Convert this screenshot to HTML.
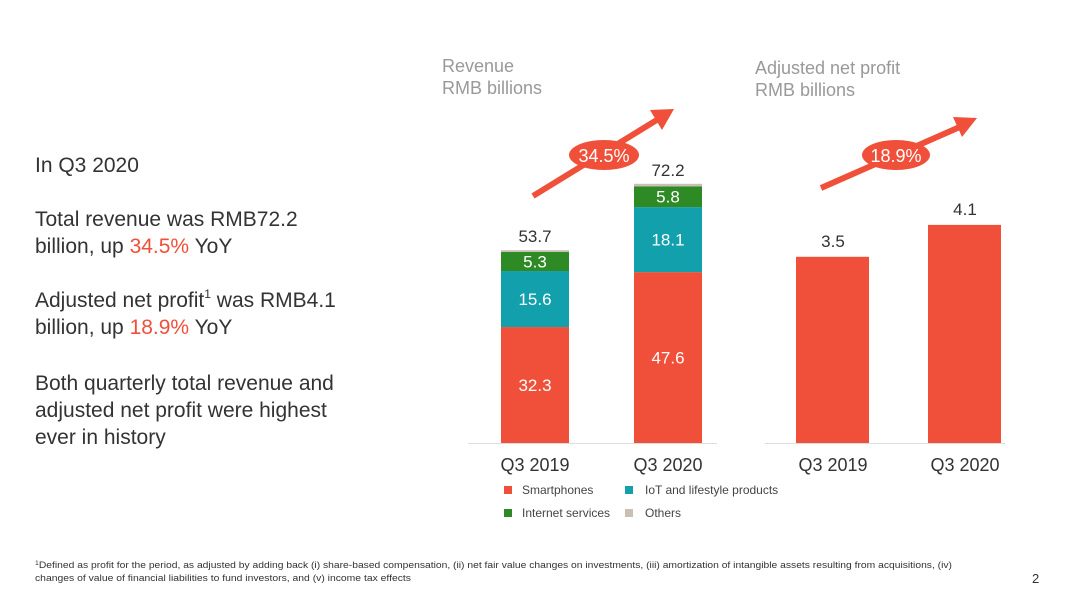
<!DOCTYPE html>
<html><head><meta charset="utf-8"><style>
body{margin:0;background:#fff;}
svg{display:block;font-family:"Liberation Sans",sans-serif;}
</style></head><body>
<svg width="1080" height="605" viewBox="0 0 1080 605">
<g fill="#333" font-size="21">
<text x="35" y="172">In Q3 2020</text>
<text x="35" y="226">Total revenue was RMB72.2</text>
<text x="35" y="253">billion, up <tspan fill="#f0503a">34.5%</tspan> YoY</text>
<text x="35" y="307">Adjusted net profit<tspan font-size="12" dy="-9">1</tspan><tspan dy="9"> was RMB4.1</tspan></text>
<text x="35" y="334">billion, up <tspan fill="#f0503a">18.9%</tspan> YoY</text>
<text x="35" y="390">Both quarterly total revenue and</text>
<text x="35" y="417">adjusted net profit were highest</text>
<text x="35" y="444">ever in history</text>
</g>
<g fill="#999" font-size="18">
<text x="442" y="72">Revenue</text><text x="442" y="94">RMB billions</text>
<text x="755" y="74">Adjusted net profit</text><text x="755" y="96">RMB billions</text>
</g>
<g id="rev"></g>
<g id="prof"></g>
<g>
<line x1="533" y1="196" x2="660" y2="118" stroke="#f0503a" stroke-width="6"/>
<polygon points="674,109 650,110 662,130" fill="#f0503a"/>
<ellipse cx="604" cy="155" rx="35" ry="15" fill="#f0503a"/>
<text x="604" y="162" fill="#fff" font-size="18" text-anchor="middle">34.5%</text>
<line x1="821" y1="188" x2="962" y2="126" stroke="#f0503a" stroke-width="6"/>
<polygon points="977,118 953,117 962,137" fill="#f0503a"/>
<ellipse cx="896" cy="155" rx="34" ry="15" fill="#f0503a"/>
<text x="896" y="162" fill="#fff" font-size="18" text-anchor="middle">18.9%</text>
</g>
<g font-size="12" fill="#444">
<rect x="504" y="486" width="8" height="8" fill="#f0503a"/><text x="522" y="494">Smartphones</text>
<rect x="625" y="486" width="8" height="8" fill="#12a0ad"/><text x="645" y="494">IoT and lifestyle products</text>
<rect x="504" y="509" width="8" height="8" fill="#2e8a25"/><text x="522" y="517">Internet services</text>
<rect x="625" y="509" width="8" height="8" fill="#c9bfb4"/><text x="645" y="517">Others</text>
</g>
<g font-size="9" fill="#333">
<text x="35" y="568" textLength="917" lengthAdjust="spacingAndGlyphs"><tspan font-size="6" dy="-3">1</tspan><tspan dy="3">Defined as profit for the period, as adjusted by adding back (i) share-based compensation, (ii) net fair value changes on investments, (iii) amortization of intangible assets resulting from acquisitions, (iv)</tspan></text>
<text x="35" y="581" textLength="376" lengthAdjust="spacingAndGlyphs">changes of value of financial liabilities to fund investors, and (v) income tax effects</text>
</g>
<text x="1032" y="583" font-size="13" fill="#333">2</text>
</svg>
<script>
const categories=["Q3 2019","Q3 2020"];
const smartphones=[32.3,47.6];
const iot=[15.6,18.1];
const internet=[5.3,5.8];
const others=[0.5,0.7];
const totals=["53.7","72.2"];
const profit=[3.5,4.1];
const profitLabels=["3.5","4.1"];
const NS="http://www.w3.org/2000/svg";
function mk(p,t,a,txt){const e=document.createElementNS(NS,t);for(const k in a)e.setAttribute(k,a[k]);if(txt!==undefined)e.textContent=txt;p.appendChild(e);return e;}
const base=443;
const revY=v=>base-v*3.59;
const profY=v=>base-v*53.2;
const rev=document.getElementById('rev');
const prof=document.getElementById('prof');
let ax=mk(rev,'line',{x1:468,x2:717,y1:base+0.5,y2:base+0.5,stroke:'#ddd','stroke-width':1});


const revX=[501,634];
const series=[[smartphones,'#f0503a','smartphones'],[iot,'#12a0ad','iot'],[internet,'#2e8a25','internet'],[others,'#c9bfb4','others']];
categories.forEach((c,i)=>{
  let cum=0;
  series.forEach(([arr,col,nm],si)=>{
    const y0=revY(cum),y1=revY(cum+arr[i]);
    const r=mk(rev,'rect',{x:revX[i],y:y1,width:68,height:y0-y1,fill:col});
    
    
    if(si<3){const t=mk(rev,'text',{x:revX[i]+34,y:(y0+y1)/2+6,'text-anchor':'middle','font-size':17,fill:'#fff'},arr[i].toFixed(1));
      
      }
    cum+=arr[i];
  });
  const tt=mk(rev,'text',{x:revX[i]+34,y:revY(cum)-8,'text-anchor':'middle','font-size':17,fill:'#333'},totals[i]);
  
  
  const xl=mk(rev,'text',{x:revX[i]+34,y:471,'text-anchor':'middle','font-size':18,fill:'#333'},c);
  
  
});
ax=mk(prof,'line',{x1:765,x2:1005,y1:base+0.5,y2:base+0.5,stroke:'#ddd','stroke-width':1});


const profX=[796,928];
categories.forEach((c,i)=>{
  const y=profY(profit[i]);
  const r=mk(prof,'rect',{x:profX[i],y:y,width:73,height:base-y,fill:'#f0503a'});
  
  
  const t=mk(prof,'text',{x:profX[i]+37,y:y-10,'text-anchor':'middle','font-size':17,fill:'#333'},profitLabels[i]);
  
  
  const xl=mk(prof,'text',{x:profX[i]+37,y:471,'text-anchor':'middle','font-size':18,fill:'#333'},c);
  
  
});
</script>
</body></html>
